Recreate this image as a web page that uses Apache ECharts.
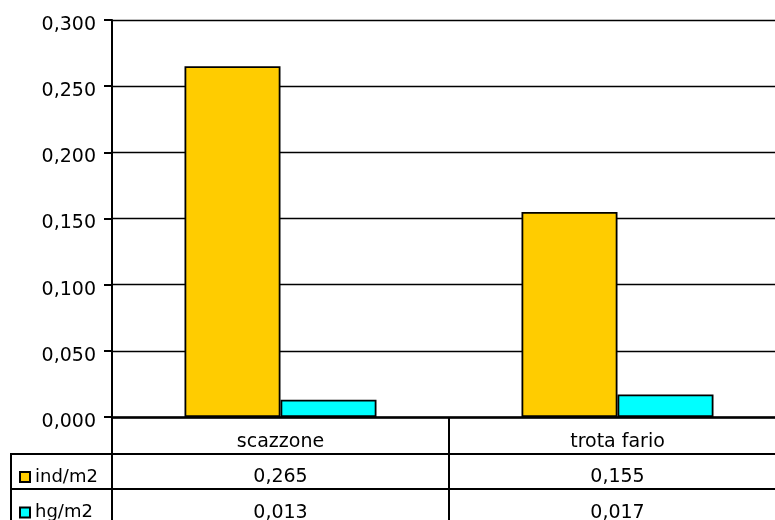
<!DOCTYPE html>
<html>
<head>
<meta charset="utf-8">
<script src="https://cdn.jsdelivr.net/npm/echarts@6/dist/echarts.min.js"></script>
<style>html,body{margin:0;padding:0;background:#fff}#c{width:775px;height:520px}</style>
</head>
<body>
<div id="c"></div>
<script>
const categories = ['scazzone', 'trota fario'];
const seriesNames = ['ind/m2', 'hg/m2'];
const indValues = [0.265, 0.155];
const hgValues = [0.013, 0.017];
const yTicks = { min: 0, max: 0.3, interval: 0.05 };

const fmt = v => v.toFixed(3).replace('.', ',');
const FONT = 'DejaVu Sans';

const legendBase = {
  orient: 'vertical', left: 19, padding: 0, icon: 'rect',
  itemWidth: 10, itemHeight: 10,
  textStyle: { fontFamily: FONT, fontSize: 18, color: '#000', lineHeight: 20 }
};

const chart = echarts.init(document.getElementById('c'), null, { renderer: 'canvas' });
chart.setOption({
  animation: false,
  backgroundColor: '#ffffff',
  grid: { left: 112, top: 20, width: 674, height: 397, containLabel: false, outerBoundsMode: 'none' },
  legend: [
    Object.assign({}, legendBase, { top: 467, data: [seriesNames[0]] }),
    Object.assign({}, legendBase, { top: 502.5, data: [seriesNames[1]] })
  ],
  xAxis: {
    type: 'category', data: categories,
    axisLine: { show: true, lineStyle: { color: '#000', width: 2.5 } },
    axisTick: { show: true, interval: 0, alignWithLabel: false, inside: false, length: 103, lineStyle: { color: '#000', width: 2 } },
    axisLabel: {
      interval: 0, margin: 7,
      fontFamily: FONT, fontSize: 19, color: '#000', lineHeight: 35.5,
      formatter: (v, i) => v + '\n' + fmt(indValues[i]) + '\n' + fmt(hgValues[i])
    },
    splitLine: { show: false }
  },
  yAxis: {
    type: 'value', min: yTicks.min, max: yTicks.max, interval: yTicks.interval,
    axisLine: { show: true, lineStyle: { color: '#000', width: 2 } },
    axisTick: { show: true, length: 8, lineStyle: { color: '#000', width: 2 } },
    axisLabel: { margin: 16, fontFamily: FONT, fontSize: 19, color: '#000', verticalAlign: 'top', lineHeight: 10, formatter: v => fmt(v) },
    splitLine: { show: true, lineStyle: { color: '#000', width: 1.3 } }
  },
  series: [
    { name: seriesNames[0], type: 'bar', data: indValues, barWidth: 96, barGap: '0%',
      itemStyle: { color: '#FFCC00', borderColor: '#000', borderWidth: 1.8 } },
    { name: seriesNames[1], type: 'bar', data: hgValues, barWidth: 96, barGap: '0%',
      itemStyle: { color: '#00FFFF', borderColor: '#000', borderWidth: 1.8 } }
  ],
  graphic: [
    { type: 'line', shape: { x1: 11, y1: 454, x2: 775, y2: 454 }, style: { stroke: '#000', lineWidth: 2 } },
    { type: 'line', shape: { x1: 11, y1: 489, x2: 775, y2: 489 }, style: { stroke: '#000', lineWidth: 2 } },
    { type: 'line', shape: { x1: 11, y1: 453, x2: 11, y2: 520 }, style: { stroke: '#000', lineWidth: 2 } }
  ]
});
</script>
</body>
</html>
